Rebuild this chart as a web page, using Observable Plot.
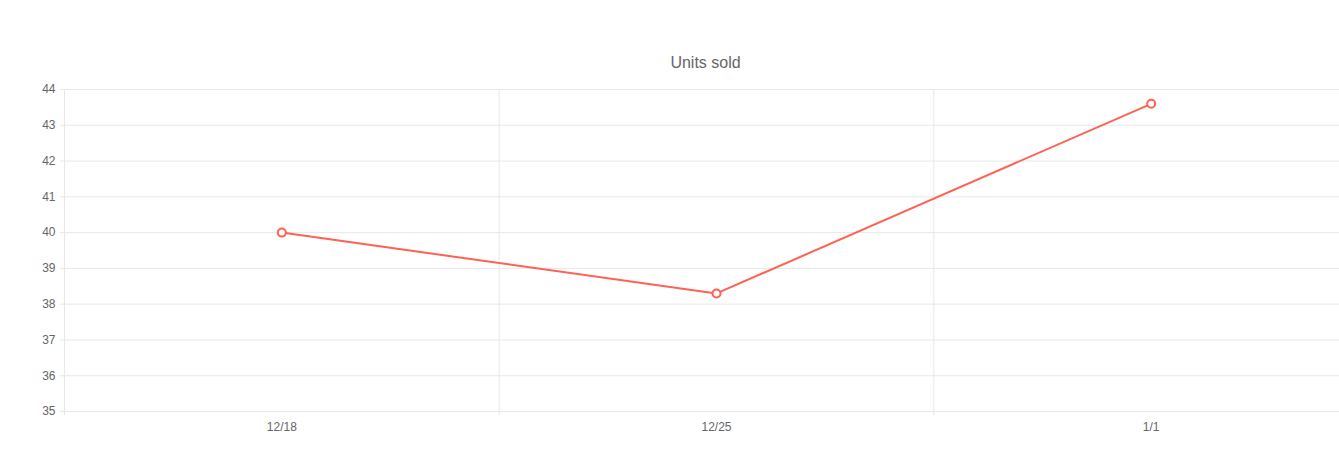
<!DOCTYPE html>
<html>
<head>
<meta charset="utf-8">
<script src="https://cdn.jsdelivr.net/npm/d3@7"></script>
<script src="https://cdn.jsdelivr.net/npm/@observablehq/plot@0.6"></script>
<style>
  html, body { margin: 0; padding: 0; background: #fff; overflow: hidden; }
</style>
</head>
<body>
<div id="chart"></div>
<script>
const title = "Units sold";
const categories = ["12/18", "12/25", "1/1"];
const unitsSold = [40, 38.3, 43.6];
const yTicks = [35, 36, 37, 38, 39, 40, 41, 42, 43, 44];

const data = categories.map((c, i) => ({pos: i + 0.5, label: c, value: unitsSold[i]}));
const boundaries = d3.range(categories.length + 1);

const font = "'Liberation Sans', Arial, Helvetica, sans-serif";
const lineColor = "#ff6152";
const gridColor = "#e8e8e8";

const chart = Plot.plot({
  width: 1339,
  height: 468,
  marginLeft: 64,
  marginRight: 0,
  marginTop: 89,
  marginBottom: 57,
  style: {fontFamily: font, fontSize: "12px", color: "#666", background: "#fff"},
  x: {type: "linear", domain: [0, categories.length], range: [64, 1368]},
  y: {domain: [35, 44]},
  marks: [
    Plot.ruleY(yTicks, {y: d => d, stroke: gridColor, strokeWidth: 1}),
    Plot.ruleX(boundaries, {x: d => d, stroke: gridColor, strokeWidth: 1, insetBottom: -4}),
    Plot.axisY(yTicks, {tickSize: 4, tickPadding: 5, stroke: gridColor, fill: "#666", fontSize: 12, label: null}),
    Plot.axisX(data.map(d => d.pos), {tickSize: 0, tickPadding: 11, fill: "#666", fontSize: 12, label: null,
      tickFormat: (d) => categories[Math.floor(d)]}),
    Plot.line(data, {x: "pos", y: "value", stroke: lineColor, strokeWidth: 2}),
    Plot.dot(data, {x: "pos", y: "value", r: 4, fill: "#fff", stroke: lineColor, strokeWidth: 2}),
    Plot.text([title], {frameAnchor: "top", dy: -33, dx: 3.5, fontSize: 16, fill: "#666", fontFamily: font})
  ]
});
document.getElementById("chart").appendChild(chart);
</script>
</body>
</html>
